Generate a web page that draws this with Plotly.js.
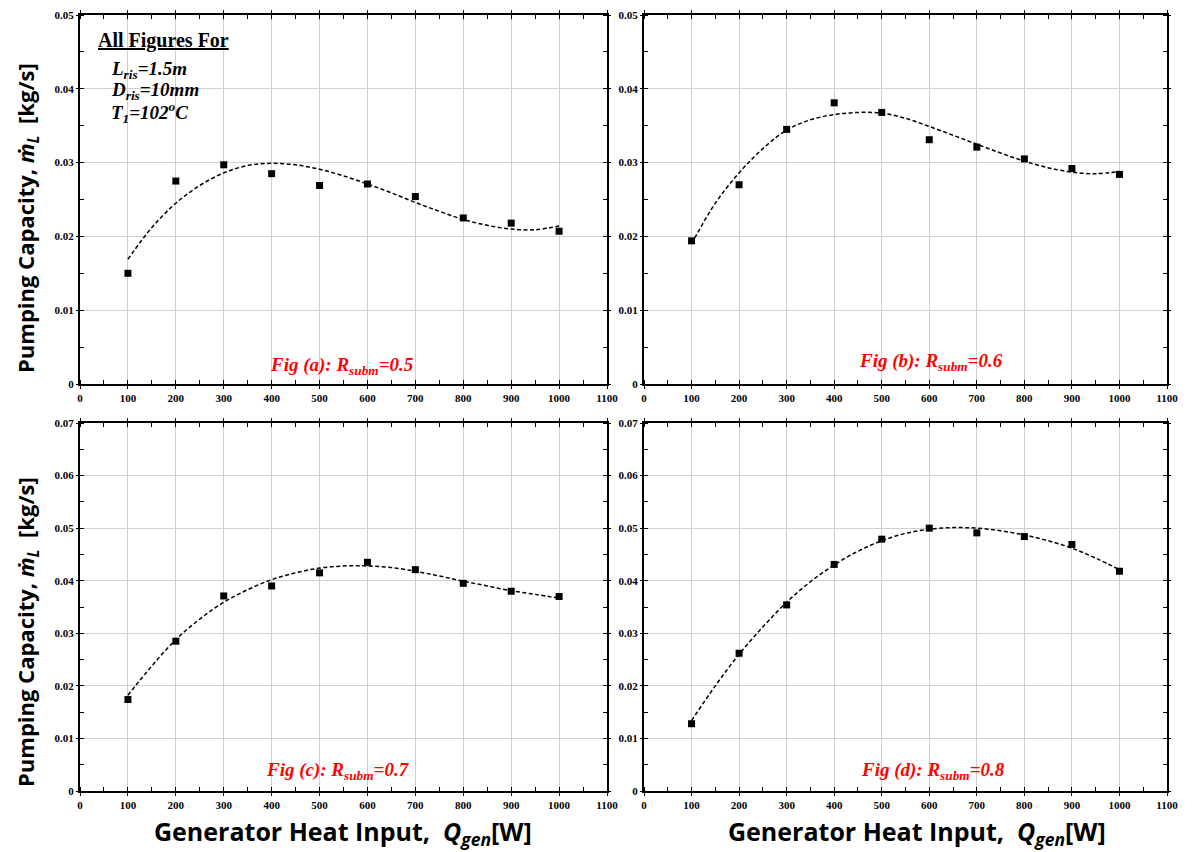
<!DOCTYPE html>
<html>
<head>
<meta charset="utf-8">
<script src="https://cdn.plot.ly/plotly-3.0.1.min.js"></script>
<style>html,body{margin:0;padding:0;background:#fff;}#chart{width:1192px;height:852px;}</style>
</head>
<body>
<div id="chart"></div>
<script>
// Generator heat input (W)
const qGen = [100, 200, 300, 400, 500, 600, 700, 800, 900, 1000];

// Measured pumping capacity (kg/s)
const mA = [0.0150, 0.0275, 0.0297, 0.0285, 0.0269, 0.0271, 0.0254, 0.0225, 0.0218, 0.0207];
const mB = [0.0194, 0.0270, 0.0345, 0.0381, 0.0368, 0.0331, 0.0321, 0.0305, 0.0292, 0.0284];
const mC = [0.0174, 0.0285, 0.0371, 0.0390, 0.0415, 0.0435, 0.0421, 0.0395, 0.0380, 0.0370];
const mD = [0.0128, 0.0262, 0.0354, 0.0431, 0.0479, 0.0500, 0.0491, 0.0484, 0.0469, 0.0418];

// Fitted trend curves
const qFit = [100, 150, 200, 250, 300, 350, 400, 450, 500, 550, 600, 650, 700, 750, 800, 850, 900, 950, 1000];
const fitA = [0.0169, 0.0212, 0.0245, 0.0269, 0.0286, 0.0296, 0.0299, 0.0297, 0.0291, 0.0282, 0.0271, 0.0259, 0.0246, 0.0234, 0.0223, 0.0215, 0.0210, 0.0209, 0.0214];
const fitB = [0.0190, 0.0245, 0.0286, 0.0319, 0.0344, 0.0358, 0.0365, 0.0368, 0.0367, 0.0360, 0.0349, 0.0337, 0.0325, 0.0313, 0.0302, 0.0293, 0.0287, 0.0285, 0.0288];
const fitC = [0.0182, 0.0238, 0.0288, 0.0327, 0.0359, 0.0383, 0.0402, 0.0415, 0.0424, 0.0428, 0.0428, 0.0425, 0.0418, 0.0409, 0.0399, 0.0390, 0.0381, 0.0374, 0.0367];
const fitD = [0.0134, 0.0200, 0.0260, 0.0312, 0.0359, 0.0398, 0.0430, 0.0456, 0.0476, 0.0490, 0.0498, 0.0501, 0.0500, 0.0495, 0.0487, 0.0476, 0.0462, 0.0443, 0.0421];

const xTickLabels = ['0','100','200','300','400','500','600','700','800','900','1000','1100'];
const panelLabels = ['a','b','c','d'];
const rValues = ['0.5','0.6','0.7','0.8'];

const W = 1192, H = 852;
const px = x => x / W;
const py = y => 1 - y / H;

const series = [[mA, fitA], [mB, fitB], [mC, fitC], [mD, fitD]];
const traces = [];
series.forEach((s, i) => {
  const xa = i === 0 ? 'x' : 'x' + (i + 1);
  const ya = i === 0 ? 'y' : 'y' + (i + 1);
  traces.push({x: qFit, y: s[1], xaxis: xa, yaxis: ya, mode: 'lines', type: 'scatter',
    line: {color: '#000', width: 1.5, dash: '4px,2.5px', shape: 'spline', smoothing: 1}, hoverinfo: 'skip', showlegend: false});
  traces.push({x: qGen, y: s[0], xaxis: xa, yaxis: ya, mode: 'markers', type: 'scatter',
    marker: {symbol: 'square', size: 7, color: '#000'}, showlegend: false});
});

const tickFont = {family: 'Liberation Serif, Times New Roman, serif', size: 11, color: '#000', weight: 700};
function xAxis(dom) {
  return {domain: dom, range: [0, 1100], tickmode: 'array', tickvals: xTickLabels.map(Number), ticktext: xTickLabels,
    showgrid: true, gridcolor: '#cfcfcf', gridwidth: 1, zeroline: false,
    showline: true, linecolor: '#000', linewidth: 2, mirror: 'ticks',
    ticks: 'outside', ticklen: 3, tickcolor: '#000', tickwidth: 1,
    minor: {dtick: 50, tick0: 50, ticks: 'inside', ticklen: 4, tickcolor: '#000', showgrid: false},
    tickfont: tickFont, fixedrange: true};
}
function yAxis(dom, top) {
  return {domain: dom, range: [0, top], dtick: 0.01, tick0: 0,
    showgrid: true, gridcolor: '#cfcfcf', gridwidth: 1, zeroline: false,
    showline: true, linecolor: '#000', linewidth: 2, mirror: 'ticks',
    ticks: 'outside', ticklen: 2, tickcolor: '#000', tickwidth: 1,
    minor: {dtick: 0.005, tick0: 0.005, ticks: 'inside', ticklen: 4, tickcolor: '#000', showgrid: false},
    tickfont: tickFont, fixedrange: true};
}

const xL = [px(80), px(607)], xR = [px(644), px(1167)];
const yT = [py(384), py(15)], yB = [py(791), py(423)];

const serif = 'Liberation Serif, Times New Roman, serif';
const sans = 'Open Sans, Noto Sans, sans-serif';

const annotations = [];
// info box
annotations.push({xref: 'paper', yref: 'paper', x: px(96), y: py(41), xanchor: 'left', yanchor: 'middle', showarrow: false,
  text: '<u>All Figures For</u>', font: {family: serif, size: 20, color: '#000', weight: 700}});
annotations.push({xref: 'paper', yref: 'paper', x: px(109), y: py(70), xanchor: 'left', yanchor: 'middle', showarrow: false,
  text: '<i>L<sub>ris</sub>=1.5m</i>', font: {family: serif, size: 19, color: '#000', weight: 700}});
annotations.push({xref: 'paper', yref: 'paper', x: px(109), y: py(91), xanchor: 'left', yanchor: 'middle', showarrow: false,
  text: '<i>D<sub>ris</sub>=10mm</i>', font: {family: serif, size: 19, color: '#000', weight: 700}});
annotations.push({xref: 'paper', yref: 'paper', x: px(109), y: py(112), xanchor: 'left', yanchor: 'middle', showarrow: false,
  text: '<i>T<sub>1</sub>=102<sup>o</sup>C</i>', font: {family: serif, size: 19, color: '#000', weight: 700}});

// panel labels
const labelPos = [[342, 366], [931, 362], [338, 771], [933, 771]];
panelLabels.forEach((p, i) => {
  annotations.push({xref: 'paper', yref: 'paper', x: px(labelPos[i][0]), y: py(labelPos[i][1]), xanchor: 'center', yanchor: 'middle', showarrow: false,
    text: '<i>Fig (' + p + '): R<sub>subm</sub>=' + rValues[i] + '</i>', font: {family: serif, size: 19, color: '#ff0000', weight: 700}});
});

// axis titles
const yTitle = 'Pumping Capacity, <i>ṁ<sub>L</sub></i>\u00a0 [kg/s]';
[[218], [632]].forEach(v => {
  annotations.push({xref: 'paper', yref: 'paper', x: px(27), y: py(v[0]), xanchor: 'center', yanchor: 'middle', showarrow: false,
    textangle: -90, text: yTitle, font: {family: sans, size: 22, color: '#000', weight: 700}});
});
const xTitle = 'Generator Heat Input,\u00a0 <i>Q<sub>gen</sub></i>[W]';
[[343], [917]].forEach(v => {
  annotations.push({xref: 'paper', yref: 'paper', x: px(v[0]), y: py(832), xanchor: 'center', yanchor: 'middle', showarrow: false,
    text: xTitle, font: {family: sans, size: 25, color: '#000', weight: 700}});
});

const layout = {
  width: W, height: H, margin: {l: 0, r: 0, t: 0, b: 0, autoexpand: false},
  paper_bgcolor: '#fff', plot_bgcolor: '#fff', showlegend: false,
  xaxis: Object.assign(xAxis(xL), {anchor: 'y'}),
  yaxis: Object.assign(yAxis(yT, 0.05), {anchor: 'x'}),
  xaxis2: Object.assign(xAxis(xR), {anchor: 'y2'}),
  yaxis2: Object.assign(yAxis(yT, 0.05), {anchor: 'x2'}),
  xaxis3: Object.assign(xAxis(xL), {anchor: 'y3'}),
  yaxis3: Object.assign(yAxis(yB, 0.07), {anchor: 'x3'}),
  xaxis4: Object.assign(xAxis(xR), {anchor: 'y4'}),
  yaxis4: Object.assign(yAxis(yB, 0.07), {anchor: 'x4'}),
  annotations: annotations
};

Plotly.newPlot('chart', traces, layout, {displayModeBar: false, staticPlot: true});
</script>
</body>
</html>
